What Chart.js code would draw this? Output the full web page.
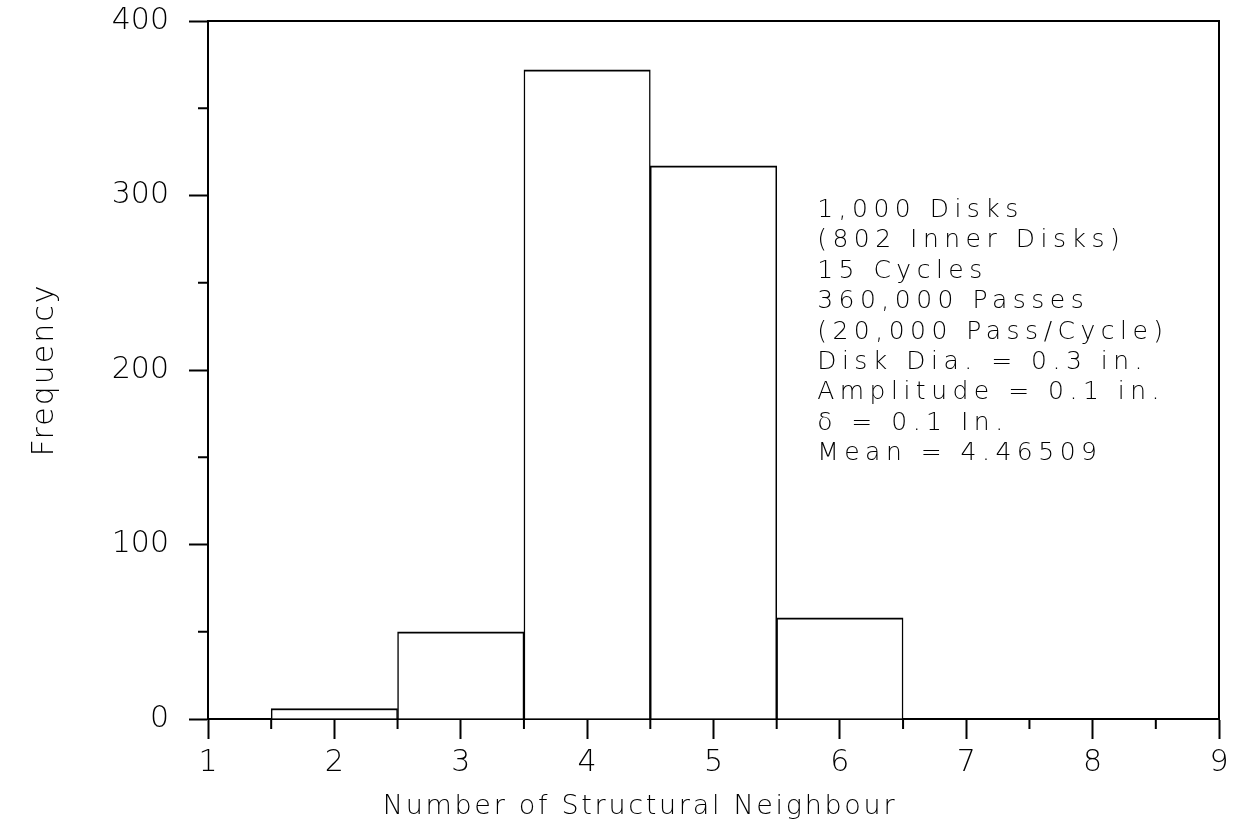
<!DOCTYPE html>
<html>
<head>
<meta charset="utf-8">
<script src="https://cdn.jsdelivr.net/npm/chart.js@4.4.1/dist/chart.umd.min.js"></script>
<style>
  html, body { margin: 0; padding: 0; background: #fff; }
  canvas { display: block; }
</style>
</head>
<body>
<canvas id="hist" width="1233" height="830"></canvas>
<script>
// Histogram of structural neighbour counts
const neighbourCounts = [2, 3, 4, 5, 6];
const frequencies = [6, 50, 372, 317, 58];
const xRange = [1, 9];
const yRange = [0, 400];
const xTitle = 'Number of Structural Neighbour';
const yTitle = 'Frequency';
const noteLines = [
  '1,000 Disks',
  '(802 Inner Disks)',
  '15 Cycles',
  '360,000 Passes',
  '(20,000 Pass/Cycle)',
  'Disk Dia. = 0.3 in.',
  'Amplitude = 0.1 in.',
  'δ = 0.1 In.',
  'Mean = 4.46509'
];

const FAMILY = '"DejaVu Sans", "Liberation Sans", sans-serif';
const WEIGHT = '200';

// Frame, minor ticks, axis titles and the run-parameter notes
const decorations = {
  id: 'decorations',
  afterDraw(chart) {
    const { ctx, chartArea: a, scales: { x, y } } = chart;
    ctx.save();
    ctx.strokeStyle = '#000';
    ctx.lineWidth = 2;
    ctx.beginPath();
    ctx.moveTo(a.left, a.top);
    ctx.lineTo(a.right, a.top);
    ctx.lineTo(a.right, a.bottom);
    // minor ticks halfway between the labelled ones
    for (let v = x.min + 0.5; v < x.max; v += 1) {
      const px = x.getPixelForValue(v);
      ctx.moveTo(px, a.bottom);
      ctx.lineTo(px, a.bottom + 10);
    }
    for (let v = y.min + 50; v < y.max; v += 100) {
      const py = y.getPixelForValue(v);
      ctx.moveTo(a.left, py);
      ctx.lineTo(a.left - 10, py);
    }
    ctx.stroke();

    ctx.fillStyle = '#000';
    ctx.textBaseline = 'middle';

    // x axis title
    ctx.font = `${WEIGHT} 27px ${FAMILY}`;
    ctx.letterSpacing = '2.7px';
    ctx.textAlign = 'center';
    ctx.fillText(xTitle, 640, 807);

    // y axis title
    ctx.save();
    ctx.translate(45, (a.top + a.bottom) / 2);
    ctx.rotate(-Math.PI / 2);
    ctx.font = `${WEIGHT} 30px ${FAMILY}`;
    ctx.letterSpacing = '2px';
    ctx.fillText(yTitle, 0, 0);
    ctx.restore();

    // parameter notes
    ctx.font = `${WEIGHT} 25px ${FAMILY}`;
    ctx.letterSpacing = '5.5px';
    ctx.textAlign = 'left';
    ctx.textBaseline = 'alphabetic';
    const left = x.getPixelForValue(5.82);
    noteLines.forEach((line, i) => {
      ctx.fillText(line, left, 217 + i * 30.4);
    });
    ctx.restore();
  }
};

const tickFont = { family: FAMILY, size: 30, weight: WEIGHT };

new Chart(document.getElementById('hist'), {
  type: 'bar',
  data: {
    datasets: [{
      data: neighbourCounts.map((n, i) => ({ x: n, y: frequencies[i] })),
      backgroundColor: '#fff',
      borderColor: '#000',
      borderWidth: { top: 2, left: 1.5, right: 1.5, bottom: 0 },
      borderSkipped: 'start',
      barPercentage: 1,
      categoryPercentage: 1
    }]
  },
  options: {
    responsive: false,
    animation: false,
    devicePixelRatio: 1,
    layout: { padding: { top: 21, right: 14, left: 0, bottom: 0 } },
    plugins: { legend: { display: false }, tooltip: { enabled: false } },
    scales: {
      x: {
        type: 'linear',
        min: xRange[0],
        max: xRange[1],
        offset: false,
        afterFit: s => { s.height = 111; s.paddingLeft = 0; s.paddingRight = 0; },
        border: { display: true, color: '#000', width: 2 },
        grid: {
          offset: false,
          drawOnChartArea: false,
          drawTicks: true,
          tickLength: 20,
          tickWidth: 2,
          tickColor: '#000'
        },
        ticks: {
          stepSize: 1,
          autoSkip: false,
          maxRotation: 0,
          padding: 6,
          color: '#000',
          font: tickFont
        }
      },
      y: {
        min: yRange[0],
        max: yRange[1],
        afterFit: s => { s.width = 208; s.paddingTop = 0; s.paddingBottom = 0; },
        border: { display: true, color: '#000', width: 2 },
        grid: {
          drawOnChartArea: false,
          drawTicks: true,
          tickLength: 19,
          tickWidth: 2,
          tickColor: '#000'
        },
        ticks: {
          stepSize: 100,
          autoSkip: false,
          padding: 20,
          color: '#000',
          font: tickFont
        }
      }
    }
  },
  plugins: [decorations]
});
</script>
</body>
</html>
